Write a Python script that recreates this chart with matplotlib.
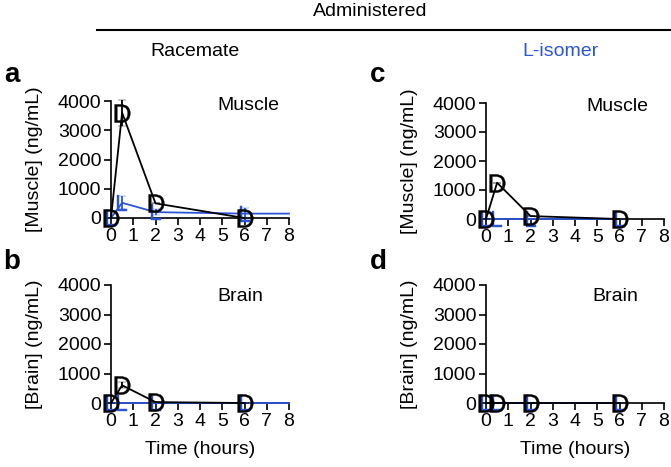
import numpy as np
import matplotlib.pyplot as plt

plt.rcParams["font.family"] = ["Liberation Sans", "DejaVu Sans"]
plt.rcParams["font.size"] = 14
plt.rcParams["mathtext.fontset"] = "custom"
plt.rcParams["mathtext.rm"] = "Liberation Sans"

BLUE = "#2a55d6"

# sampling times (hours)
time_d = [0, 0.5, 2, 6]
time_l = [0, 0.5, 2, 6, 8]

# panel a: racemate dosed, muscle
a_d = [0, 3600, 500, 0]
a_d_err = [0, 450, 0, 0]
a_l = [0, 520, 200, 150, 150]
a_l_err = [0, 220, 100, 180, 0]

# panel b: racemate dosed, brain
b_d = [0, 600, 30, 0]
b_d_err = [0, 100, 0, 0]
b_l = [0, 0, 0, 0, 0]
b_l_err = [0, 0, 0, 0, 0]

# panel c: L-isomer dosed, muscle
c_d = [0, 1250, 100, 0]
c_d_err = [0, 0, 0, 0]
c_l = [0, 0, 0, 0, 0]
c_l_err = [0, 0, 0, 0, 0]

# panel d: L-isomer dosed, brain
d_d = [0, 0, 0, 0]
d_d_err = [0, 0, 0, 0]
d_l = [0, 0, 0, 0, 0]
d_l_err = [0, 0, 0, 0, 0]

fig = plt.figure(figsize=(6.71, 4.67), dpi=100)

W, H = 671, 467


def make_ax(left_px, bottom_px, top_px, width_px=178):
    return fig.add_axes([left_px / W, 1 - bottom_px / H,
                         width_px / W, (bottom_px - top_px) / H])


def style(ax, ylabel, tissue, show_xlabel, tpos):
    ax.set_xlim(0, 8)
    ax.set_ylim(0, 4000)
    ax.set_xticks(range(0, 9))
    ax.set_yticks([0, 1000, 2000, 3000, 4000])
    for s in ["top", "right"]:
        ax.spines[s].set_visible(False)
    for s in ["left", "bottom"]:
        ax.spines[s].set_linewidth(1.2)
    ax.tick_params(direction="out", length=5, width=1.2, pad=2, labelsize=14)
    ax.set_ylabel(ylabel, fontsize=14)
    ax.yaxis.set_label_coords(-0.38, 0.5)
    if show_xlabel:
        ax.set_xlabel("Time (hours)", fontsize=14, labelpad=8)
    ax.text(tpos[0], tpos[1], tissue, transform=ax.transAxes, ha="center",
            va="center", fontsize=14)


def plot_pair(ax, yd, yd_err, yl, yl_err, l_end):
    n = l_end
    ax.plot(time_l[:n], yl[:n], color=BLUE, lw=1.3, clip_on=False, zorder=3)
    ax.errorbar(time_l[:4], yl[:4], yerr=yl_err[:4], color=BLUE, lw=0,
                marker=r"$\mathrm{L}$", markersize=12, markeredgewidth=0.3,
                capsize=3, elinewidth=1.3, clip_on=False, zorder=3)
    ax.errorbar(time_d, yd, yerr=yd_err, color="black", lw=1.3,
                marker=r"$\mathrm{D}$", markersize=13, markeredgewidth=0.3,
                capsize=3, elinewidth=1.3, clip_on=False, zorder=4)


ax_a = make_ax(111, 218, 101)
plot_pair(ax_a, a_d, a_d_err, a_l, a_l_err, 5)
style(ax_a, "[Muscle] (ng/mL)", "Muscle", False, (0.77, 0.96))

ax_b = make_ax(111, 403, 285)
plot_pair(ax_b, b_d, b_d_err, b_l, b_l_err, 5)
style(ax_b, "[Brain] (ng/mL)", "Brain", True, (0.725, 0.9))

ax_c = make_ax(486, 219, 103)
plot_pair(ax_c, c_d, c_d_err, c_l, c_l_err, 4)
style(ax_c, "[Muscle] (ng/mL)", "Muscle", False, (0.74, 0.97))

ax_d = make_ax(486, 403, 285)
plot_pair(ax_d, d_d, d_d_err, d_l, d_l_err, 4)
style(ax_d, "[Brain] (ng/mL)", "Brain", True, (0.725, 0.9))

# header
fig.text(370 / W, 1 - 12 / H, "Administered", ha="center", va="center",
         fontsize=14)
fig.add_artist(plt.Line2D([97 / W, 1.0], [1 - 30 / H, 1 - 30 / H],
                          color="black", lw=1.5))
fig.text(195 / W, 1 - 52 / H, "Racemate", ha="center", va="center",
         fontsize=14)
fig.text(560 / W, 1 - 52 / H, "L-isomer", ha="center", va="center",
         fontsize=14, color=BLUE)

# panel letters
for lab, x, y in [("a", 12, 75), ("b", 12, 262), ("c", 378, 75),
                  ("d", 378, 262)]:
    fig.text(x / W, 1 - y / H, lab, ha="center", va="center",
             fontsize=20, fontweight="bold")

fig.savefig("out.png", dpi=100)
